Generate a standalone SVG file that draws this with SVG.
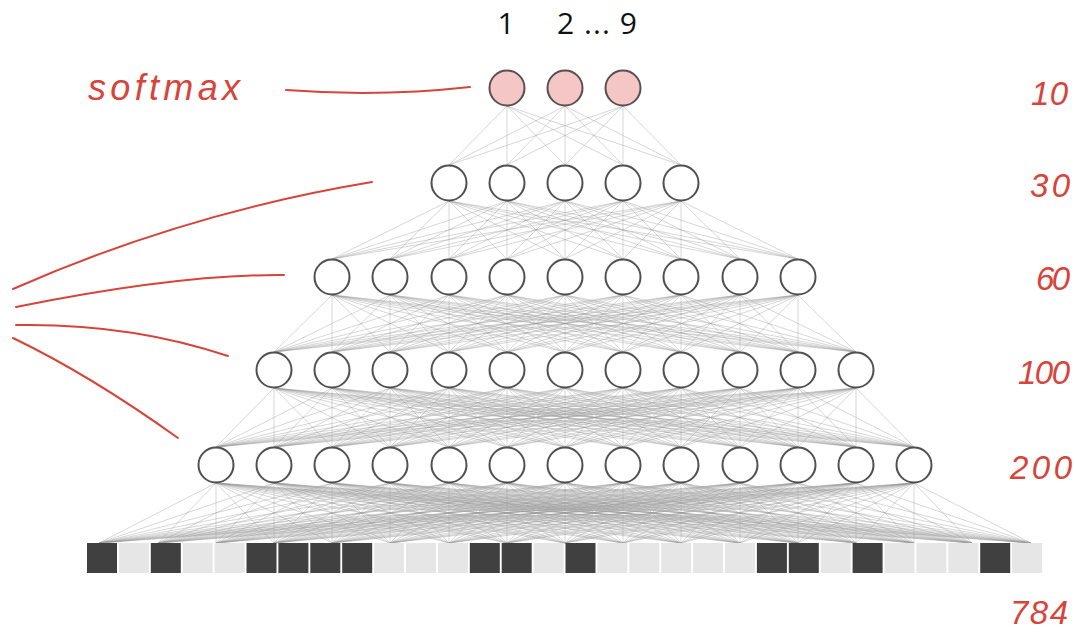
<svg xmlns="http://www.w3.org/2000/svg" width="1076" height="633" viewBox="0 0 1076 633">
<style>
.c{fill:none;stroke:#9a9a9a;stroke-opacity:0.4;stroke-width:1}
.n{fill:#ffffff;stroke:#505050;stroke-width:2}
.p{fill:#f4c6c6;stroke:#5a5050;stroke-width:2}
.d{fill:#404040}
.l{fill:#e6e6e6}
.r{fill:none;stroke:#d6443a;stroke-width:2;stroke-linecap:round}
.h{font-family:"Liberation Sans",Arial,sans-serif;font-style:italic;fill:#d6443a;font-size:33px}
.t{font-family:"Open Sans","Liberation Sans",sans-serif;fill:#111;font-size:30px}
</style>
<rect width="1076" height="633" fill="#ffffff"/>
<g id="connectors">
<path class="c" d="M507 106L449 165M507 106L507 165M507 106L565 165M507 106L623 165M507 106L681 165"/>
<path class="c" d="M565 106L449 165M565 106L507 165M565 106L565 165M565 106L623 165M565 106L681 165"/>
<path class="c" d="M623 106L449 165M623 106L507 165M623 106L565 165M623 106L623 165M623 106L681 165"/>
<path class="c" d="M449 201L332 259M449 201L390 259M449 201L449 259M449 201L507 259M449 201L565 259M449 201L623 259M449 201L681 259M449 201L740 259M449 201L798 259"/>
<path class="c" d="M507 201L332 259M507 201L390 259M507 201L449 259M507 201L507 259M507 201L565 259M507 201L623 259M507 201L681 259M507 201L740 259M507 201L798 259"/>
<path class="c" d="M565 201L332 259M565 201L390 259M565 201L449 259M565 201L507 259M565 201L565 259M565 201L623 259M565 201L681 259M565 201L740 259M565 201L798 259"/>
<path class="c" d="M623 201L332 259M623 201L390 259M623 201L449 259M623 201L507 259M623 201L565 259M623 201L623 259M623 201L681 259M623 201L740 259M623 201L798 259"/>
<path class="c" d="M681 201L332 259M681 201L390 259M681 201L449 259M681 201L507 259M681 201L565 259M681 201L623 259M681 201L681 259M681 201L740 259M681 201L798 259"/>
<path class="c" d="M332 295L274 352M332 295L332 352M332 295L390 352M332 295L449 352M332 295L507 352M332 295L565 352M332 295L623 352M332 295L681 352M332 295L740 352M332 295L798 352M332 295L856 352"/>
<path class="c" d="M390 295L274 352M390 295L332 352M390 295L390 352M390 295L449 352M390 295L507 352M390 295L565 352M390 295L623 352M390 295L681 352M390 295L740 352M390 295L798 352M390 295L856 352"/>
<path class="c" d="M449 295L274 352M449 295L332 352M449 295L390 352M449 295L449 352M449 295L507 352M449 295L565 352M449 295L623 352M449 295L681 352M449 295L740 352M449 295L798 352M449 295L856 352"/>
<path class="c" d="M507 295L274 352M507 295L332 352M507 295L390 352M507 295L449 352M507 295L507 352M507 295L565 352M507 295L623 352M507 295L681 352M507 295L740 352M507 295L798 352M507 295L856 352"/>
<path class="c" d="M565 295L274 352M565 295L332 352M565 295L390 352M565 295L449 352M565 295L507 352M565 295L565 352M565 295L623 352M565 295L681 352M565 295L740 352M565 295L798 352M565 295L856 352"/>
<path class="c" d="M623 295L274 352M623 295L332 352M623 295L390 352M623 295L449 352M623 295L507 352M623 295L565 352M623 295L623 352M623 295L681 352M623 295L740 352M623 295L798 352M623 295L856 352"/>
<path class="c" d="M681 295L274 352M681 295L332 352M681 295L390 352M681 295L449 352M681 295L507 352M681 295L565 352M681 295L623 352M681 295L681 352M681 295L740 352M681 295L798 352M681 295L856 352"/>
<path class="c" d="M740 295L274 352M740 295L332 352M740 295L390 352M740 295L449 352M740 295L507 352M740 295L565 352M740 295L623 352M740 295L681 352M740 295L740 352M740 295L798 352M740 295L856 352"/>
<path class="c" d="M798 295L274 352M798 295L332 352M798 295L390 352M798 295L449 352M798 295L507 352M798 295L565 352M798 295L623 352M798 295L681 352M798 295L740 352M798 295L798 352M798 295L856 352"/>
<path class="c" d="M274 388L216 447M274 388L274 447M274 388L332 447M274 388L390 447M274 388L449 447M274 388L507 447M274 388L565 447M274 388L623 447M274 388L681 447M274 388L740 447M274 388L798 447M274 388L856 447M274 388L914 447"/>
<path class="c" d="M332 388L216 447M332 388L274 447M332 388L332 447M332 388L390 447M332 388L449 447M332 388L507 447M332 388L565 447M332 388L623 447M332 388L681 447M332 388L740 447M332 388L798 447M332 388L856 447M332 388L914 447"/>
<path class="c" d="M390 388L216 447M390 388L274 447M390 388L332 447M390 388L390 447M390 388L449 447M390 388L507 447M390 388L565 447M390 388L623 447M390 388L681 447M390 388L740 447M390 388L798 447M390 388L856 447M390 388L914 447"/>
<path class="c" d="M449 388L216 447M449 388L274 447M449 388L332 447M449 388L390 447M449 388L449 447M449 388L507 447M449 388L565 447M449 388L623 447M449 388L681 447M449 388L740 447M449 388L798 447M449 388L856 447M449 388L914 447"/>
<path class="c" d="M507 388L216 447M507 388L274 447M507 388L332 447M507 388L390 447M507 388L449 447M507 388L507 447M507 388L565 447M507 388L623 447M507 388L681 447M507 388L740 447M507 388L798 447M507 388L856 447M507 388L914 447"/>
<path class="c" d="M565 388L216 447M565 388L274 447M565 388L332 447M565 388L390 447M565 388L449 447M565 388L507 447M565 388L565 447M565 388L623 447M565 388L681 447M565 388L740 447M565 388L798 447M565 388L856 447M565 388L914 447"/>
<path class="c" d="M623 388L216 447M623 388L274 447M623 388L332 447M623 388L390 447M623 388L449 447M623 388L507 447M623 388L565 447M623 388L623 447M623 388L681 447M623 388L740 447M623 388L798 447M623 388L856 447M623 388L914 447"/>
<path class="c" d="M681 388L216 447M681 388L274 447M681 388L332 447M681 388L390 447M681 388L449 447M681 388L507 447M681 388L565 447M681 388L623 447M681 388L681 447M681 388L740 447M681 388L798 447M681 388L856 447M681 388L914 447"/>
<path class="c" d="M740 388L216 447M740 388L274 447M740 388L332 447M740 388L390 447M740 388L449 447M740 388L507 447M740 388L565 447M740 388L623 447M740 388L681 447M740 388L740 447M740 388L798 447M740 388L856 447M740 388L914 447"/>
<path class="c" d="M798 388L216 447M798 388L274 447M798 388L332 447M798 388L390 447M798 388L449 447M798 388L507 447M798 388L565 447M798 388L623 447M798 388L681 447M798 388L740 447M798 388L798 447M798 388L856 447M798 388L914 447"/>
<path class="c" d="M856 388L216 447M856 388L274 447M856 388L332 447M856 388L390 447M856 388L449 447M856 388L507 447M856 388L565 447M856 388L623 447M856 388L681 447M856 388L740 447M856 388L798 447M856 388L856 447M856 388L914 447"/>
<path class="c" d="M216 483L99 543M216 483L158 543M216 483L216 543M216 483L274 543M216 483L332 543M216 483L390 543M216 483L449 543M216 483L507 543M216 483L565 543M216 483L623 543M216 483L681 543M216 483L740 543M216 483L798 543M216 483L856 543M216 483L914 543M216 483L972 543M216 483L1031 543"/>
<path class="c" d="M274 483L99 543M274 483L158 543M274 483L216 543M274 483L274 543M274 483L332 543M274 483L390 543M274 483L449 543M274 483L507 543M274 483L565 543M274 483L623 543M274 483L681 543M274 483L740 543M274 483L798 543M274 483L856 543M274 483L914 543M274 483L972 543M274 483L1031 543"/>
<path class="c" d="M332 483L99 543M332 483L158 543M332 483L216 543M332 483L274 543M332 483L332 543M332 483L390 543M332 483L449 543M332 483L507 543M332 483L565 543M332 483L623 543M332 483L681 543M332 483L740 543M332 483L798 543M332 483L856 543M332 483L914 543M332 483L972 543M332 483L1031 543"/>
<path class="c" d="M390 483L99 543M390 483L158 543M390 483L216 543M390 483L274 543M390 483L332 543M390 483L390 543M390 483L449 543M390 483L507 543M390 483L565 543M390 483L623 543M390 483L681 543M390 483L740 543M390 483L798 543M390 483L856 543M390 483L914 543M390 483L972 543M390 483L1031 543"/>
<path class="c" d="M449 483L99 543M449 483L158 543M449 483L216 543M449 483L274 543M449 483L332 543M449 483L390 543M449 483L449 543M449 483L507 543M449 483L565 543M449 483L623 543M449 483L681 543M449 483L740 543M449 483L798 543M449 483L856 543M449 483L914 543M449 483L972 543M449 483L1031 543"/>
<path class="c" d="M507 483L99 543M507 483L158 543M507 483L216 543M507 483L274 543M507 483L332 543M507 483L390 543M507 483L449 543M507 483L507 543M507 483L565 543M507 483L623 543M507 483L681 543M507 483L740 543M507 483L798 543M507 483L856 543M507 483L914 543M507 483L972 543M507 483L1031 543"/>
<path class="c" d="M565 483L99 543M565 483L158 543M565 483L216 543M565 483L274 543M565 483L332 543M565 483L390 543M565 483L449 543M565 483L507 543M565 483L565 543M565 483L623 543M565 483L681 543M565 483L740 543M565 483L798 543M565 483L856 543M565 483L914 543M565 483L972 543M565 483L1031 543"/>
<path class="c" d="M623 483L99 543M623 483L158 543M623 483L216 543M623 483L274 543M623 483L332 543M623 483L390 543M623 483L449 543M623 483L507 543M623 483L565 543M623 483L623 543M623 483L681 543M623 483L740 543M623 483L798 543M623 483L856 543M623 483L914 543M623 483L972 543M623 483L1031 543"/>
<path class="c" d="M681 483L99 543M681 483L158 543M681 483L216 543M681 483L274 543M681 483L332 543M681 483L390 543M681 483L449 543M681 483L507 543M681 483L565 543M681 483L623 543M681 483L681 543M681 483L740 543M681 483L798 543M681 483L856 543M681 483L914 543M681 483L972 543M681 483L1031 543"/>
<path class="c" d="M740 483L99 543M740 483L158 543M740 483L216 543M740 483L274 543M740 483L332 543M740 483L390 543M740 483L449 543M740 483L507 543M740 483L565 543M740 483L623 543M740 483L681 543M740 483L740 543M740 483L798 543M740 483L856 543M740 483L914 543M740 483L972 543M740 483L1031 543"/>
<path class="c" d="M798 483L99 543M798 483L158 543M798 483L216 543M798 483L274 543M798 483L332 543M798 483L390 543M798 483L449 543M798 483L507 543M798 483L565 543M798 483L623 543M798 483L681 543M798 483L740 543M798 483L798 543M798 483L856 543M798 483L914 543M798 483L972 543M798 483L1031 543"/>
<path class="c" d="M856 483L99 543M856 483L158 543M856 483L216 543M856 483L274 543M856 483L332 543M856 483L390 543M856 483L449 543M856 483L507 543M856 483L565 543M856 483L623 543M856 483L681 543M856 483L740 543M856 483L798 543M856 483L856 543M856 483L914 543M856 483L972 543M856 483L1031 543"/>
<path class="c" d="M914 483L99 543M914 483L158 543M914 483L216 543M914 483L274 543M914 483L332 543M914 483L390 543M914 483L449 543M914 483L507 543M914 483L565 543M914 483L623 543M914 483L681 543M914 483L740 543M914 483L798 543M914 483L856 543M914 483L914 543M914 483L972 543M914 483L1031 543"/>
</g>
<g id="layer-10">
<g id="o1"><circle class="p" cx="507" cy="88" r="17.5"/></g>
<g id="o2"><circle class="p" cx="565" cy="88" r="17.5"/></g>
<g id="o3"><circle class="p" cx="623" cy="88" r="17.5"/></g>
</g>
<g id="layer-30">
<g id="a1"><circle class="n" cx="449" cy="183" r="17.5"/></g>
<g id="a2"><circle class="n" cx="507" cy="183" r="17.5"/></g>
<g id="a3"><circle class="n" cx="565" cy="183" r="17.5"/></g>
<g id="a4"><circle class="n" cx="623" cy="183" r="17.5"/></g>
<g id="a5"><circle class="n" cx="681" cy="183" r="17.5"/></g>
</g>
<g id="layer-60">
<g id="b1"><circle class="n" cx="332" cy="277" r="17.5"/></g>
<g id="b2"><circle class="n" cx="390" cy="277" r="17.5"/></g>
<g id="b3"><circle class="n" cx="449" cy="277" r="17.5"/></g>
<g id="b4"><circle class="n" cx="507" cy="277" r="17.5"/></g>
<g id="b5"><circle class="n" cx="565" cy="277" r="17.5"/></g>
<g id="b6"><circle class="n" cx="623" cy="277" r="17.5"/></g>
<g id="b7"><circle class="n" cx="681" cy="277" r="17.5"/></g>
<g id="b8"><circle class="n" cx="740" cy="277" r="17.5"/></g>
<g id="b9"><circle class="n" cx="798" cy="277" r="17.5"/></g>
</g>
<g id="layer-100">
<g id="c1"><circle class="n" cx="274" cy="370" r="17.5"/></g>
<g id="c2"><circle class="n" cx="332" cy="370" r="17.5"/></g>
<g id="c3"><circle class="n" cx="390" cy="370" r="17.5"/></g>
<g id="c4"><circle class="n" cx="449" cy="370" r="17.5"/></g>
<g id="c5"><circle class="n" cx="507" cy="370" r="17.5"/></g>
<g id="c6"><circle class="n" cx="565" cy="370" r="17.5"/></g>
<g id="c7"><circle class="n" cx="623" cy="370" r="17.5"/></g>
<g id="c8"><circle class="n" cx="681" cy="370" r="17.5"/></g>
<g id="c9"><circle class="n" cx="740" cy="370" r="17.5"/></g>
<g id="c10"><circle class="n" cx="798" cy="370" r="17.5"/></g>
<g id="c11"><circle class="n" cx="856" cy="370" r="17.5"/></g>
</g>
<g id="layer-200">
<g id="d1"><circle class="n" cx="216" cy="465" r="17.5"/></g>
<g id="d2"><circle class="n" cx="274" cy="465" r="17.5"/></g>
<g id="d3"><circle class="n" cx="332" cy="465" r="17.5"/></g>
<g id="d4"><circle class="n" cx="390" cy="465" r="17.5"/></g>
<g id="d5"><circle class="n" cx="449" cy="465" r="17.5"/></g>
<g id="d6"><circle class="n" cx="507" cy="465" r="17.5"/></g>
<g id="d7"><circle class="n" cx="565" cy="465" r="17.5"/></g>
<g id="d8"><circle class="n" cx="623" cy="465" r="17.5"/></g>
<g id="d9"><circle class="n" cx="681" cy="465" r="17.5"/></g>
<g id="d10"><circle class="n" cx="740" cy="465" r="17.5"/></g>
<g id="d11"><circle class="n" cx="798" cy="465" r="17.5"/></g>
<g id="d12"><circle class="n" cx="856" cy="465" r="17.5"/></g>
<g id="d13"><circle class="n" cx="914" cy="465" r="17.5"/></g>
</g>
<g id="input-784">
<g id="i0"><rect class="d" x="87" y="543" width="30" height="30"/></g>
<g id="i1"><rect class="l" x="118.9" y="543" width="30" height="30"/></g>
<g id="i2"><rect class="d" x="150.8" y="543" width="30" height="30"/></g>
<g id="i3"><rect class="l" x="182.7" y="543" width="30" height="30"/></g>
<g id="i4"><rect class="l" x="214.6" y="543" width="30" height="30"/></g>
<g id="i5"><rect class="d" x="246.5" y="543" width="30" height="30"/></g>
<g id="i6"><rect class="d" x="278.4" y="543" width="30" height="30"/></g>
<g id="i7"><rect class="d" x="310.3" y="543" width="30" height="30"/></g>
<g id="i8"><rect class="d" x="342.2" y="543" width="30" height="30"/></g>
<g id="i9"><rect class="l" x="374.1" y="543" width="30" height="30"/></g>
<g id="i10"><rect class="l" x="406" y="543" width="30" height="30"/></g>
<g id="i11"><rect class="l" x="437.9" y="543" width="30" height="30"/></g>
<g id="i12"><rect class="d" x="469.8" y="543" width="30" height="30"/></g>
<g id="i13"><rect class="d" x="501.7" y="543" width="30" height="30"/></g>
<g id="i14"><rect class="l" x="533.6" y="543" width="30" height="30"/></g>
<g id="i15"><rect class="d" x="565.5" y="543" width="30" height="30"/></g>
<g id="i16"><rect class="l" x="597.4" y="543" width="30" height="30"/></g>
<g id="i17"><rect class="l" x="629.3" y="543" width="30" height="30"/></g>
<g id="i18"><rect class="l" x="661.2" y="543" width="30" height="30"/></g>
<g id="i19"><rect class="l" x="693.1" y="543" width="30" height="30"/></g>
<g id="i20"><rect class="l" x="725" y="543" width="30" height="30"/></g>
<g id="i21"><rect class="d" x="756.9" y="543" width="30" height="30"/></g>
<g id="i22"><rect class="d" x="788.8" y="543" width="30" height="30"/></g>
<g id="i23"><rect class="l" x="820.7" y="543" width="30" height="30"/></g>
<g id="i24"><rect class="d" x="852.6" y="543" width="30" height="30"/></g>
<g id="i25"><rect class="l" x="884.5" y="543" width="30" height="30"/></g>
<g id="i26"><rect class="l" x="916.4" y="543" width="30" height="30"/></g>
<g id="i27"><rect class="l" x="948.3" y="543" width="30" height="30"/></g>
<g id="i28"><rect class="d" x="980.2" y="543" width="30" height="30"/></g>
<g id="i29"><rect class="l" x="1012.1" y="543" width="30" height="30"/></g>
</g>
<g id="annotations">
<text class="t" x="506" y="34" text-anchor="middle">1</text>
<text class="t" x="557" y="34" textLength="80" lengthAdjust="spacing">2 ... 9</text>
<text class="h" x="88" y="100" style="font-size:36px" textLength="152" lengthAdjust="spacing">softmax</text>
<path class="r" d="M286 90Q380 97 470 87"/>
<path class="r" d="M13 289Q185 213 372 182"/>
<path class="r" d="M16 307Q180 274 284 275"/>
<path class="r" d="M16 325Q130 323 228 356"/>
<path class="r" d="M13 338Q90 375 178 438"/>
<text class="h" x="1068" y="105" text-anchor="end" textLength="37" lengthAdjust="spacing">10</text>
<text class="h" x="1070" y="197" text-anchor="end" textLength="40" lengthAdjust="spacing">30</text>
<text class="h" x="1070" y="290" text-anchor="end" textLength="34" lengthAdjust="spacing">60</text>
<text class="h" x="1070" y="384" text-anchor="end" textLength="52" lengthAdjust="spacing">100</text>
<text class="h" x="1072" y="479" text-anchor="end" textLength="62" lengthAdjust="spacing">200</text>
<text class="h" x="1068" y="624" text-anchor="end" textLength="58" lengthAdjust="spacing">784</text>
</g>
</svg>
